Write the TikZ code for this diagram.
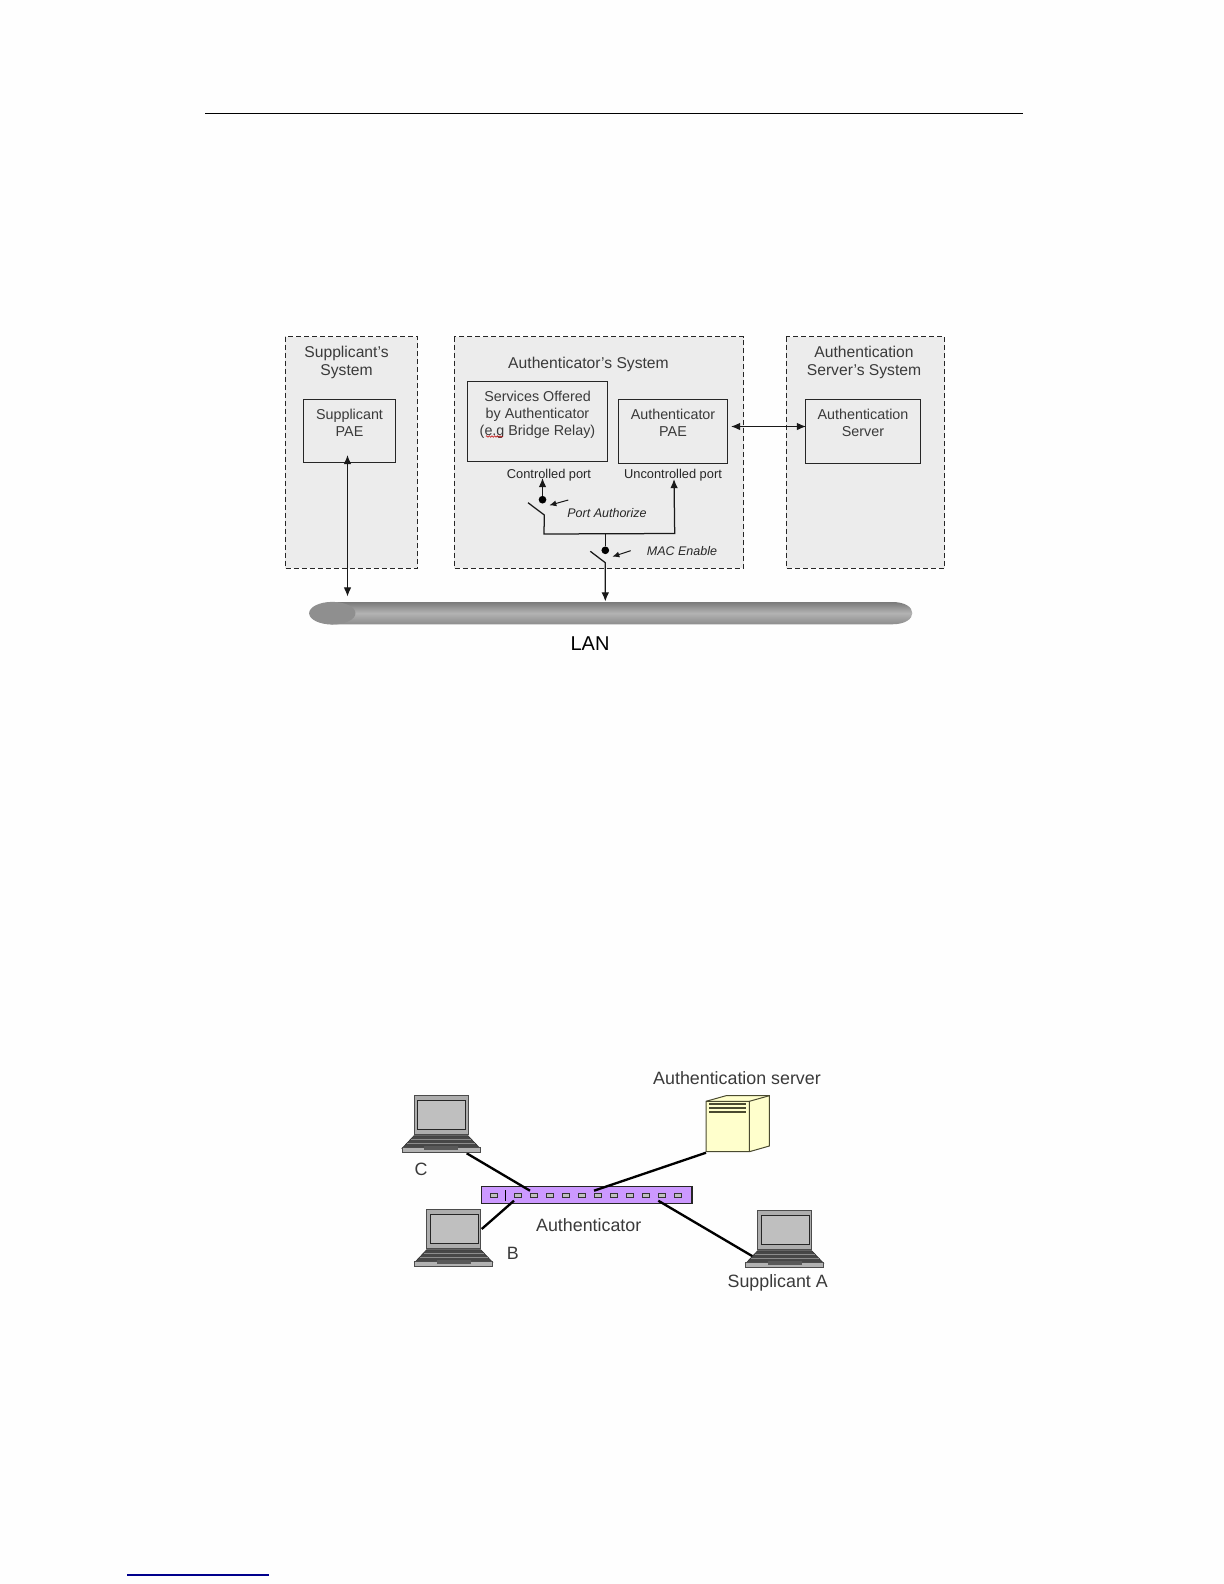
\documentclass[tikz,border=0pt]{standalone}
\usepackage{fontspec}
\setmainfont{Liberation Sans}
\usetikzlibrary{arrows.meta,decorations.pathmorphing,shapes.geometric}
\definecolor{panelgray}{HTML}{ECECEC}
\definecolor{inktext}{HTML}{3A3A3A}
\definecolor{pagebg}{HTML}{FEFEFE}
\definecolor{swviolet}{HTML}{CC99FF}
\definecolor{srvyellow}{HTML}{FFFFCC}
\definecolor{srvline}{HTML}{4A4A30}
\newcommand{\sq}{\symbol{39}}
\tikzset{
  x=0.6pt,y=-0.6pt,
  sysbox/.style={draw=black!85,dash pattern=on 3pt off 1.8pt,line width=0.6pt,fill=panelgray},
  innerbox/.style={draw=black!85,line width=0.6pt,fill=panelgray,align=center,text=inktext,inner sep=0pt,font=\fontsize{8.6}{10.2}\selectfont},
  title/.style={align=center,text=inktext,inner sep=0pt,font=\fontsize{9.4}{10.8}\selectfont},
  portlab/.style={text=black!85,inner sep=0pt,font=\fontsize{7.7}{9}\selectfont},
  itlab/.style={text=black!85,inner sep=0pt,font=\fontsize{7.5}{9}\selectfont\itshape},
  netlab/.style={text=inktext,inner sep=0pt,font=\fontsize{10.7}{12}\selectfont},
  wire/.style={draw=black!90,line width=0.75pt},
  arw/.style={wire,-{Latex[length=5.5pt,width=4.6pt]}},
  darw/.style={wire,{Latex[length=5.5pt,width=4.6pt]}-{Latex[length=5.5pt,width=4.6pt]}},
  sarw/.style={draw=black!90,line width=0.6pt,-{Latex[length=4.2pt,width=3.6pt]}},
  sdot/.style={circle,fill=black,inner sep=0pt,minimum size=4.6pt},
  link/.style={draw=black,line width=1.4pt},
  port/.style={draw=black!80,line width=0.75pt,fill=black!25,inner sep=0pt,minimum width=4.6pt,minimum height=2.4pt},
  laptop/.pic={
    \fill[black!72,draw=black!80,line width=0.4pt] (0,40) -- (54,40) -- (66,52.7) -- (-12,52.7) -- cycle;
    \draw[black!45,line width=0.3pt] (-3,44) -- (57,44) (-7,48) -- (61,48);
    \filldraw[fill=black!30,draw=black!70,line width=0.6pt] (-12,52.2) rectangle (66,57);
    \fill[black!65] (10,50.5) rectangle (44,54);
    \filldraw[fill=black!32,draw=black!70,line width=0.6pt] (0,0) rectangle (54,38.5);
    \filldraw[fill=black!25,draw=black!85,line width=0.6pt] (3.5,4.7) rectangle (51.5,33.7);
  }
}
\begin{document}
\begin{tikzpicture}
\useasboundingbox (0,0) rectangle (1224,1584);
\fill[pagebg] (0,0) rectangle (1224,1584);
% page rules
\coordinate (ruleL) at (205,113.5);
\coordinate (ruleR) at (1023,113.5);
\draw[black,line width=0.6pt] (ruleL) -- (ruleR);
\coordinate (footL) at (127,1575);
\coordinate (footR) at (269,1575);
\draw[blue!55!black,line width=0.7pt] (footL) -- (footR);

% system panels
\draw[sysbox] (285,336.5) rectangle (417.5,568);
\draw[sysbox] (454,336.5) rectangle (743.7,568);
\draw[sysbox] (786.3,336.5) rectangle (944.7,568);
\node[title] (tSup) at (346.5,362.5) {Supplicant\sq s\\System};
\node[title] (tAuth) at (588.5,364) {Authenticator\sq s System};
\node[title] (tSrv) at (864,362.5) {Authentication\\Server\sq s System};

% inner boxes
\node[innerbox,minimum width=55.2pt,minimum height=37.8pt] (supPAE) at (349.5,431.2) {Supplicant\\PAE\\~};
\node[innerbox,minimum width=84pt,minimum height=48pt] (services) at (537.5,421.5) {Services Offered\\by Authenticator\\(e.g Bridge Relay)\\~};
\node[innerbox,minimum width=65.6pt,minimum height=38.3pt] (authPAE) at (673,431.4) {Authenticator\\PAE\\~};
\node[innerbox,minimum width=69.2pt,minimum height=38.3pt] (authSrv) at (863,431.4) {Authentication\\Server\\~};
\coordinate (sq1) at (486,436.5);
\coordinate (sq2) at (503,436.5);
\draw[red!75!black,line width=0.3pt,decorate,decoration={zigzag,segment length=1.6pt,amplitude=0.5pt}] (sq1) -- (sq2);

\node[portlab] (lCtl) at (549,475) {Controlled port};
\node[portlab] (lUnc) at (673,475) {Uncontrolled port};
\node[itlab] (lPA) at (607,513) {Port Authorize};
\node[itlab] (lMAC) at (682,551.5) {MAC Enable};

% LAN bar
\shade[top color=black!52,bottom color=black!45,middle color=black!30]
  (330,602) -- (892,602) .. controls (905,602) and (912.3,607) .. (912.3,613.2)
  .. controls (912.3,619) and (905,624.3) .. (892,624.3) -- (330,624.3) -- cycle;
\node[fill=black!44,ellipse,draw=none,inner sep=0pt,minimum width=27.8pt,minimum height=13.6pt] (lanEnd) at (332.3,613.2) {};
\coordinate (lanTopA) at (347.5,596.5);
\coordinate (lanTopB) at (605.3,601.5);
\node[inner sep=0pt,font=\fontsize{12}{15}\selectfont,text=black] (lan) at (590,643.5) {LAN};

% arrows
\coordinate (supIn) at (347.5,455);
\draw[darw] (supIn) -- (lanTopA);
\coordinate (papeR) at (731,426.5);
\coordinate (srvL) at (806,426.5);
\draw[darw] (papeR) -- (srvL);

% port authorize switch
\node[sdot] (d1) at (542.5,499.7) {};
\coordinate (ctlIn) at (542.5,478);
\draw[arw] (d1) -- (ctlIn);
\coordinate (s1a) at (528,502.7);
\coordinate (s1b) at (544.3,515);
\coordinate (s1c) at (544,534);
\coordinate (s1d) at (674.7,533.5);
\coordinate (uncIn) at (674,479);
\draw[arw] (s1a) -- (s1b) -- (s1c) -- (s1d) -- (uncIn);
\coordinate (pa1) at (568.3,500);
\coordinate (pa2) at (549.3,505.3);
\draw[sarw] (pa1) -- (pa2);

% MAC enable switch
\node[sdot] (d2) at (605.3,550.3) {};
\coordinate (junc) at (605.3,533.7);
\draw[wire] (junc) -- (d2);
\coordinate (s2a) at (590.3,551.3);
\coordinate (s2b) at (605.3,562.7);
\draw[arw] (s2a) -- (s2b) -- (lanTopB);
\coordinate (me1) at (630.7,550.7);
\coordinate (me2) at (612.3,556.7);
\draw[sarw] (me1) -- (me2);

% ---------- lower diagram ----------
\coordinate (cPort) at (530,1190.7);
\coordinate (sPort) at (594,1190.7);
\coordinate (bPort) at (514,1200.7);
\coordinate (aPort) at (658.3,1200.7);
\coordinate (cEnd) at (466.7,1153.3);
\coordinate (sEnd) at (706,1152.7);
\coordinate (bEnd) at (481.7,1229);
\coordinate (aEnd) at (753.3,1256.7);

% switch
\node[draw=black!85,line width=0.8pt,fill=swviolet,inner sep=0pt,minimum width=126.4pt,minimum height=10.2pt] (sw) at (586.6,1194.8) {};
\foreach \px in {494,518,534,550,566,582,598,614,630,646,662,678}
  \node[port] at (\px,1195.3) {};
\coordinate (divT) at (505.7,1190);
\coordinate (divB) at (505.7,1201.3);
\draw[black,line width=0.6pt] (divT) -- (divB);

\draw[link] (cEnd) -- (cPort);
\draw[link] (sEnd) -- (sPort);
\draw[link] (bEnd) -- (bPort);
\draw[link] (aEnd) -- (aPort);

% laptops
\pic at (414,1095.7) {laptop};
\pic at (426.7,1209.7) {laptop};
\pic at (757.7,1210.7) {laptop};

% server
\filldraw[fill=srvyellow,draw=srvline,line width=0.6pt]
  (706,1101.3) -- (726,1095.7) -- (769.3,1095.7) -- (769.3,1146) -- (749.3,1151.7) -- (706,1151.7) -- cycle;
\draw[srvline,line width=0.6pt] (706,1101.3) -- (749.3,1101.3) -- (769.3,1095.7) (749.3,1101.3) -- (749.3,1151.7);
\draw[srvline,line width=0.9pt] (709.3,1104) -- (746,1104) (709.3,1108) -- (746,1108) (709.3,1112) -- (746,1112);

% labels
\node[netlab] (lSrv) at (737,1078.5) {Authentication server};
\node[netlab] (lC) at (421,1169.5) {C};
\node[netlab] (lB) at (512.7,1253) {B};
\node[netlab] (lAu) at (588.7,1225) {Authenticator};
\node[netlab] (lA) at (777.7,1282.5) {Supplicant A};
\end{tikzpicture}
\end{document}
